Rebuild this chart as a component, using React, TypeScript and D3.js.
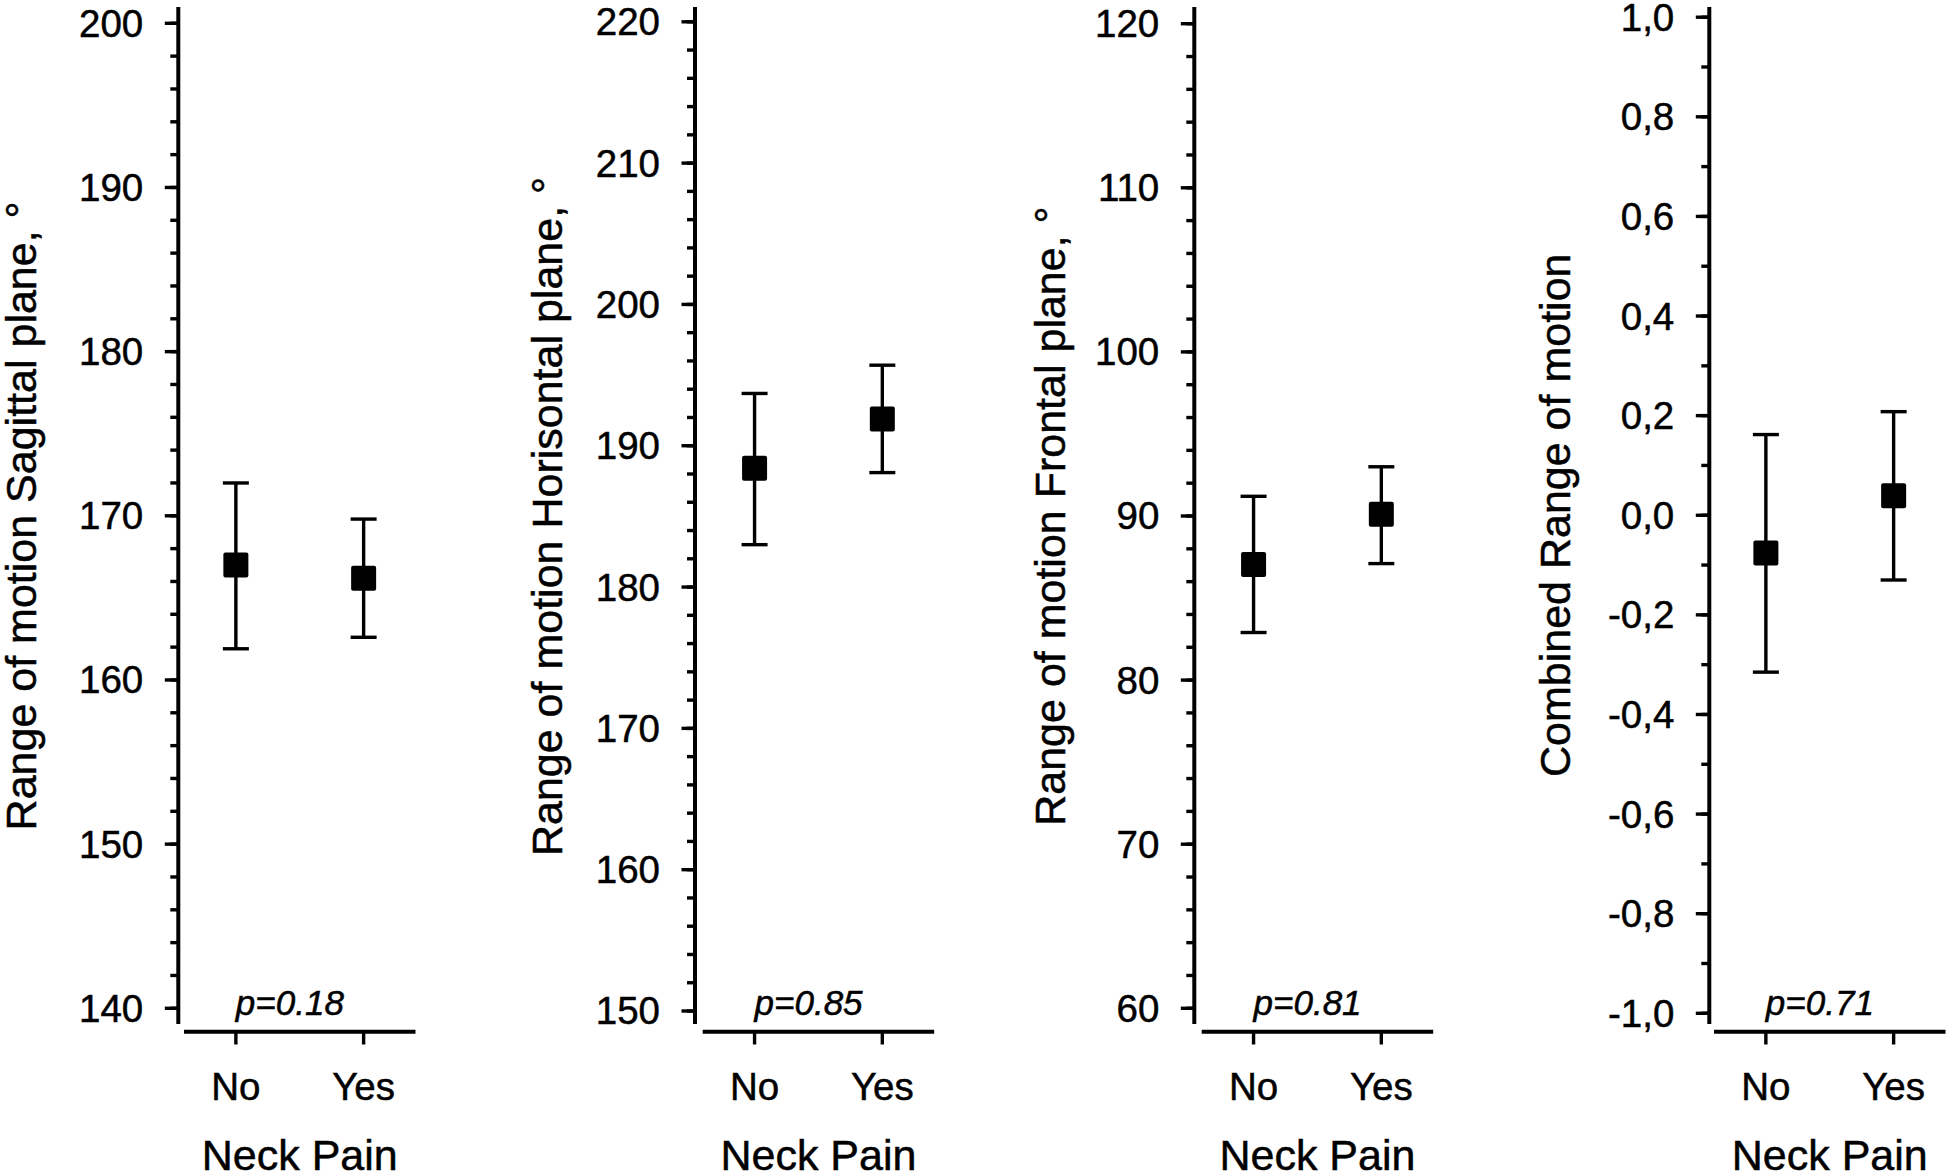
import React from "react";
import * as d3 from "d3";

// ---- data ----
const groups = ["No", "Yes"];
const xTitle = "Neck Pain";

const sagittalMean = [167.0, 166.2];
const sagittalLow = [161.9, 162.6];
const sagittalHigh = [172.0, 169.8];

const horizontalMean = [188.4, 191.9];
const horizontalLow = [183.0, 188.1];
const horizontalHigh = [193.7, 195.7];

const frontalMean = [87.05, 90.1];
const frontalLow = [82.9, 87.1];
const frontalHigh = [91.2, 93.0];

const combinedMean = [-0.076, 0.039];
const combinedLow = [-0.315, -0.13];
const combinedHigh = [0.162, 0.208];

const yTitles = [
  "Range of motion Sagittal plane, \u00B0",
  "Range of motion Horisontal plane, \u00B0",
  "Range of motion Frontal plane, \u00B0",
  "Combined Range of motion",
];
const pLabels = ["p=0.18", "p=0.85", "p=0.81", "p=0.71"];
const yDomains: [number, number][] = [
  [140, 200],
  [150, 220],
  [60, 120],
  [-1, 1],
];
const majorSteps = [10, 10, 10, 0.2];
const minorSteps = [2, 2, 2, 0.1];
const decimals = [0, 0, 0, 1];

const means = [sagittalMean, horizontalMean, frontalMean, combinedMean];
const lows = [sagittalLow, horizontalLow, frontalLow, combinedLow];
const highs = [sagittalHigh, horizontalHigh, frontalHigh, combinedHigh];

// ---- layout ----
const W = 1952;
const H = 1172;
const axisXs = [178.3, 695, 1194.3, 1709.3];
const xAxisStarts = [184, 702.7, 1201.7, 1714];
const titleXs = [36, 562, 1065, 1570];
const yTops = [23.3, 21.8, 23.7, 17.2];
const yBottoms = [1008.3, 1011, 1008.3, 1013.3];
const FONT = "'Liberation Sans', Arial, Helvetica, sans-serif";
const TXT_STROKE = 0.5;

function Panel({ i }: { i: number }) {
  const axisX = axisXs[i];
  const y = d3.scaleLinear().domain(yDomains[i]).range([yBottoms[i], yTops[i]]);
  const x = d3
    .scalePoint<string>()
    .domain(groups)
    .range([xAxisStarts[i], xAxisStarts[i] + 231.5])
    .padding(0.406);
  const [d0, d1] = yDomains[i];
  const nMajor = Math.round((d1 - d0) / majorSteps[i]);
  const nMinor = Math.round((d1 - d0) / minorSteps[i]);
  const majors = d3.range(nMajor + 1).map((k) => d0 + k * majorSteps[i]);
  const minors = d3.range(nMinor + 1).map((k) => d0 + k * minorSteps[i]);
  const fmt = (v: number) =>
    d3.format(`.${decimals[i]}f`)(Math.abs(v) < 1e-9 ? 0 : v).replace("\u2212", "-").replace(".", ",");
  const axisBottomY = 1031.7;
  const yMid = (yTops[i] + yBottoms[i]) / 2;
  const xMid = (x("No")! + x("Yes")!) / 2;
  const sq = 25;
  const cap = 13;
  const txt = { fontFamily: FONT, fill: "#000", stroke: "#000", strokeWidth: TXT_STROKE };

  return (
    <g>
      {/* y axis */}
      <line x1={axisX} x2={axisX} y1={7} y2={1024} stroke="#000" strokeWidth={4} />
      {minors.map((v, k) => (
        <line key={"mi" + k} x1={axisX - 8} x2={axisX} y1={y(v)} y2={y(v)} stroke="#000" strokeWidth={3.4} />
      ))}
      {majors.map((v, k) => (
        <g key={"ma" + k}>
          <line x1={axisX - 13.5} x2={axisX} y1={y(v)} y2={y(v)} stroke="#000" strokeWidth={3.4} />
          <text x={axisX - 35} y={y(v)} dy="0.35em" textAnchor="end" fontSize={38.5} {...txt}>
            {fmt(v)}
          </text>
        </g>
      ))}
      {/* y title */}
      <text
        transform={`translate(${titleXs[i]},${yMid}) rotate(-90)`}
        textAnchor="middle"
        fontSize={43}
        {...txt}
      >
        {yTitles[i]}
      </text>
      {/* x axis */}
      <line
        x1={xAxisStarts[i]}
        x2={xAxisStarts[i] + 231.5}
        y1={axisBottomY}
        y2={axisBottomY}
        stroke="#000"
        strokeWidth={4}
      />
      {groups.map((g) => (
        <g key={g}>
          <line x1={x(g)} x2={x(g)} y1={axisBottomY} y2={1044.5} stroke="#000" strokeWidth={3.4} />
          <text x={x(g)} y={1100} textAnchor="middle" fontSize={38.5} {...txt}>
            {g}
          </text>
        </g>
      ))}
      <text x={xMid} y={1170} textAnchor="middle" fontSize={43} {...txt}>
        {xTitle}
      </text>
      {/* p value */}
      <text x={x("No")} y={1015} fontStyle="italic" fontSize={35} {...txt}>
        {pLabels[i]}
      </text>
      {/* error bars and means */}
      {groups.map((g, k) => {
        const cx = x(g)!;
        return (
          <g key={"e" + g}>
            <line x1={cx} x2={cx} y1={y(lows[i][k])} y2={y(highs[i][k])} stroke="#000" strokeWidth={3.4} />
            <line x1={cx - cap} x2={cx + cap} y1={y(highs[i][k])} y2={y(highs[i][k])} stroke="#000" strokeWidth={3.4} />
            <line x1={cx - cap} x2={cx + cap} y1={y(lows[i][k])} y2={y(lows[i][k])} stroke="#000" strokeWidth={3.4} />
            <rect
              x={cx - sq / 2}
              y={y(means[i][k]) - sq / 2}
              width={sq}
              height={sq}
              rx={2}
              fill="#000"
            />
          </g>
        );
      })}
    </g>
  );
}

export default function App() {
  return (
    <svg
      width={W}
      height={H}
      viewBox={`0 0 ${W} ${H}`}
      style={{ position: "absolute", left: 0, top: 0, display: "block", background: "#fff" }}
    >
      <rect x={0} y={0} width={W} height={H} fill="#fff" />
      {[0, 1, 2, 3].map((i) => (
        <Panel key={i} i={i} />
      ))}
    </svg>
  );
}
